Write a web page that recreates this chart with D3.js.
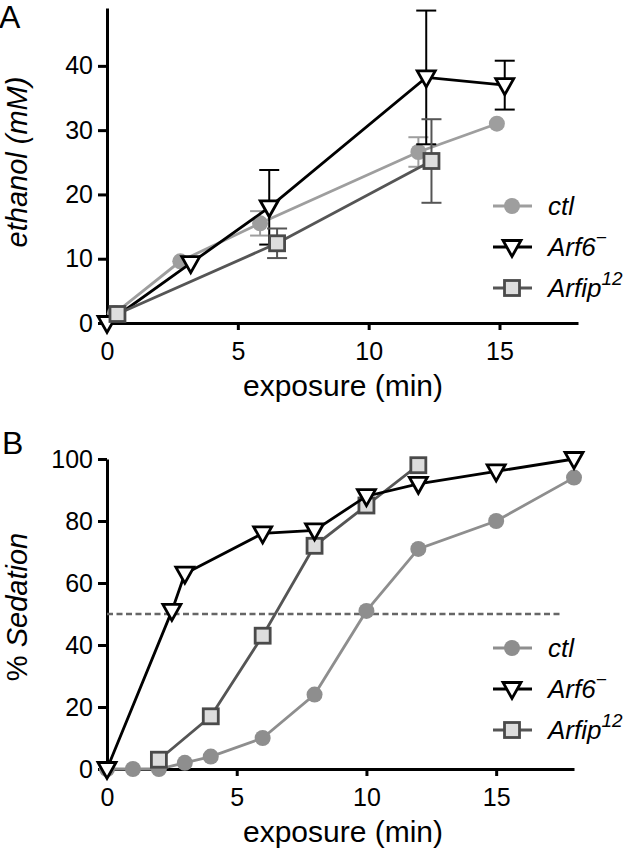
<!DOCTYPE html>
<html>
  <head>
    <meta charset="utf-8">
    <script src="https://d3js.org/d3.v7.min.js"></script>
    <style>
      body { margin: 0; background: white; }
      text { font-family: "Liberation Sans", Arial, sans-serif; }
    </style>
  </head>
  <body>
    <div id="chart"></div>
    <script>
      // ---- panel A: blood ethanol ----
      const aTimeCtl = [0.3, 2.8, 5.85, 11.9, 14.9];
      const aEthCtl = [1.5, 9.6, 15.5, 26.6, 31];
      const aErrCtl = [0, 0, 1.9, 2.3, 0];

      const aTimeArf6 = [0, 3.2, 6.2, 12.2, 15.2];
      const aEthArf6 = [0, 9.3, 18, 38.2, 37];
      const aErrArf6 = [0, 0, 5.8, 10.4, 3.8];

      const aTimeArfip = [0.4, 6.5, 12.4];
      const aEthArfip = [1.4, 12.4, 25.2];
      const aErrArfip = [0, 2.3, 6.5];

      const aYTicks = [0, 10, 20, 30, 40];

      // ---- panel B: sedation ----
      const bTimeCtl = [0, 1, 2, 3, 4, 6, 8, 10, 12, 15, 18];
      const bSedCtl = [0, 0, 0, 2, 4, 10, 24, 51, 71, 80, 94];

      const bTimeArf6 = [0, 2.5, 3, 6, 8, 10, 12, 15, 18];
      const bSedArf6 = [0, 51, 63, 76, 77, 88, 92, 96, 100];

      const bTimeArfip = [2, 4, 6, 8, 10, 12];
      const bSedArfip = [3, 17, 43, 72, 85, 98];

      const bYTicks = [0, 20, 40, 60, 80, 100];
      const xTicks = [0, 5, 10, 15];
      const halfLine = 50;

      const width = 638, height = 853;

      const svg = d3.select("#chart").append("svg")
        .attr("width", width)
        .attr("height", height);

      // styles per genotype
      const style = {
        ctl:   { line: "#999", fill: "#999", stroke: "#999", shape: "circle" },
        arf6:  { line: "#000", fill: "#fff", stroke: "#000", shape: "triangle" },
        arfip: { line: "#555", fill: "#ddd", stroke: "#4a4a4a", shape: "square" }
      };

      function marker(g, kind, x, y) {
        const s = style[kind];
        if (s.shape == "circle") {
          g.append("circle").attr("cx", x).attr("cy", y).attr("r", 8)
            .attr("fill", s.fill);
        } else if (s.shape == "square") {
          g.append("rect").attr("x", x - 7.5).attr("y", y - 7.5)
            .attr("width", 15).attr("height", 15)
            .attr("fill", s.fill).attr("stroke", s.stroke).attr("stroke-width", 2.8);
        } else {
          // downward pointing triangle
          g.append("path")
            .attr("d", `M${x - 9},${y - 6.5} L${x + 9},${y - 6.5} L${x},${y + 9.5} Z`)
            .attr("fill", s.fill).attr("stroke", s.stroke)
            .attr("stroke-width", 2.8).attr("stroke-linejoin", "miter");
        }
      }

      function series(g, x, y, kind, xs, ys, errs) {
        const s = style[kind];
        const pts = xs.map((t, i) => [t, ys[i], errs ? errs[i] : 0]);
        // error bars
        pts.filter(d => d[2] > 0).forEach(d => {
          const cx = x(d[0]);
          g.append("line").attr("x1", cx).attr("x2", cx)
            .attr("y1", y(d[1] - d[2])).attr("y2", y(d[1] + d[2]))
            .attr("stroke", s.line).attr("stroke-width", 2);
          [d[1] - d[2], d[1] + d[2]].forEach(v => {
            g.append("line").attr("x1", cx - 10).attr("x2", cx + 10)
              .attr("y1", y(v)).attr("y2", y(v))
              .attr("stroke", s.line).attr("stroke-width", 2);
          });
        });
        g.append("path")
          .datum(pts)
          .attr("fill", "none")
          .attr("stroke", s.line)
          .attr("stroke-width", 2.8)
          .attr("d", d3.line().x(d => x(d[0])).y(d => y(d[1])));
        pts.forEach(d => marker(g, kind, x(d[0]), y(d[1])));
      }

      function legend(g, top) {
        const rows = [
          { kind: "ctl", name: "ctl", sup: "" },
          { kind: "arf6", name: "Arf6", sup: "\u2212" },
          { kind: "arfip", name: "Arfip", sup: "12" }
        ];
        rows.forEach((r, i) => {
          const yy = top + i * 41;
          g.append("line").attr("x1", 493).attr("x2", 532)
            .attr("y1", yy).attr("y2", yy)
            .attr("stroke", style[r.kind].line).attr("stroke-width", 2.8);
          marker(g, r.kind, 512, yy);
          const t = g.append("text").attr("x", 548).attr("y", yy + 9)
            .attr("font-size", 26).attr("font-style", "italic").text(r.name);
          if (r.sup) {
            t.append("tspan").attr("dy", -12).attr("font-size", 19).text(r.sup);
          }
        });
      }

      function axes(g, x, y, yTicks, x0, yBase, xTitleY, yTitleCenter, yTitle) {
        const xa = g.append("g")
          .attr("transform", `translate(0,${yBase})`)
          .call(d3.axisBottom(x).tickValues(xTicks).tickSize(7).tickPadding(12).tickSizeOuter(0));
        const ya = g.append("g")
          .attr("transform", `translate(${x0},0)`)
          .call(d3.axisLeft(y).tickValues(yTicks).tickSize(9).tickPadding(5).tickSizeOuter(0));
        [xa, ya].forEach(a => {
          a.select(".domain").attr("stroke", "#000").attr("stroke-width", 3);
          a.selectAll(".tick line").attr("stroke", "#000").attr("stroke-width", 3);
          a.selectAll(".tick text").attr("font-size", 25).attr("fill", "#000")
            .attr("font-family", "Liberation Sans, Arial, sans-serif");
        });
        g.append("text")
          .attr("x", 343).attr("y", xTitleY)
          .attr("text-anchor", "middle")
          .attr("font-size", 30)
          .text("exposure (min)");
        const yt = g.append("text")
          .attr("transform", `translate(27,${yTitleCenter}) rotate(-90)`)
          .attr("text-anchor", "middle")
          .attr("font-size", 29);
        yTitle(yt);
      }

      // ---------- panel A ----------
      const gA = svg.append("g");
      const xA = d3.scaleLinear().domain([0, 18]).range([107, 578]);
      const yA = d3.scaleLinear().domain([0, 49]).range([323, 8]);

      style.ctl.line = style.ctl.fill = "#9e9e9e";
      axes(gA, xA, yA, aYTicks, 107, 323, 396, 162, t => {
        t.attr("font-style", "italic").text("ethanol (mM)");
      });
      series(gA, xA, yA, "ctl", aTimeCtl, aEthCtl, aErrCtl);
      series(gA, xA, yA, "arf6", aTimeArf6, aEthArf6, aErrArf6);
      series(gA, xA, yA, "arfip", aTimeArfip, aEthArfip, aErrArfip);
      legend(gA, 206);
      gA.append("text").attr("x", -1).attr("y", 28).attr("font-size", 32).text("A");

      // ---------- panel B ----------
      const gB = svg.append("g");
      const xB = d3.scaleLinear().domain([0, 18]).range([107, 574]);
      const yB = d3.scaleLinear().domain([0, 100]).range([769, 459]);

      style.ctl.line = style.ctl.fill = "#8e8e8e";
      axes(gB, xB, yB, bYTicks, 107, 769, 842, 607, t => {
        t.append("tspan").text("% ");
        t.append("tspan").attr("font-style", "italic").text("Sedation");
      });

      gB.append("line")
        .attr("x1", xB(0)).attr("x2", xB(17.5))
        .attr("y1", yB(halfLine)).attr("y2", yB(halfLine))
        .attr("stroke", "#666").attr("stroke-width", 2.5)
        .attr("stroke-dasharray", "6,3.5");

      series(gB, xB, yB, "ctl", bTimeCtl, bSedCtl, null);
      series(gB, xB, yB, "arfip", bTimeArfip, bSedArfip, null);
      series(gB, xB, yB, "arf6", bTimeArf6, bSedArf6, null);
      legend(gB, 648);
      gB.append("text").attr("x", 2).attr("y", 454).attr("font-size", 32).text("B");
    </script>
  </body>
</html>
